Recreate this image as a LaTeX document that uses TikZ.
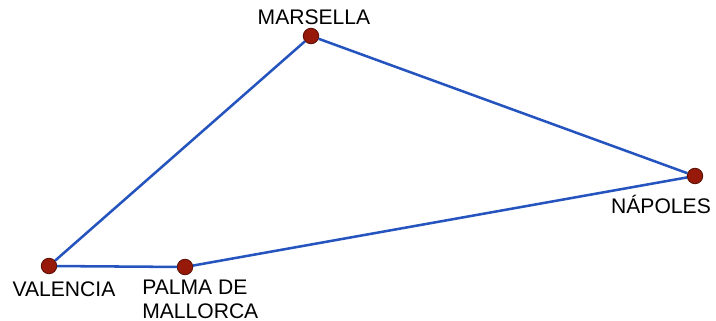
\documentclass[tikz,border=0pt]{standalone}
\usepackage{fontspec}
\setmainfont{Liberation Sans}
\usetikzlibrary{positioning}
\definecolor{routeblue}{RGB}{38,84,190}
\definecolor{portred}{RGB}{150,25,10}
\definecolor{portrim}{RGB}{90,15,5}
\tikzset{
    port/.style={circle,fill=portred,draw=portrim,line width=0.6pt,minimum size=11pt,inner sep=0pt},
    route/.style={routeblue,line width=1.8pt},
    city/.style={inner sep=0pt,font=\fontsize{15}{17}\selectfont}
}

\begin{document}
\begin{tikzpicture}[x=0.025cm,y=-0.025cm]
\useasboundingbox (0,0) rectangle (716,321);
\node[port] (M) at (311,36) {};
\node[port] (N) at (695,176) {};
\node[port] (V) at (49,266) {};
\node[port] (P) at (185,267) {};
\draw[route] (V) -- (M) -- (N) -- (P) -- (V);
\node[city] (Mlab) at (314,17) {MARSELLA};
\node[city] (Nlab) at (661,204) {NÁPOLES};
\node[city] (Vlab) at (64,289) {VALENCIA};
\node[city,align=left,anchor=north west] (Plab) at (142,280) {PALMA DE\\MALLORCA};
\end{tikzpicture}
\end{document}
